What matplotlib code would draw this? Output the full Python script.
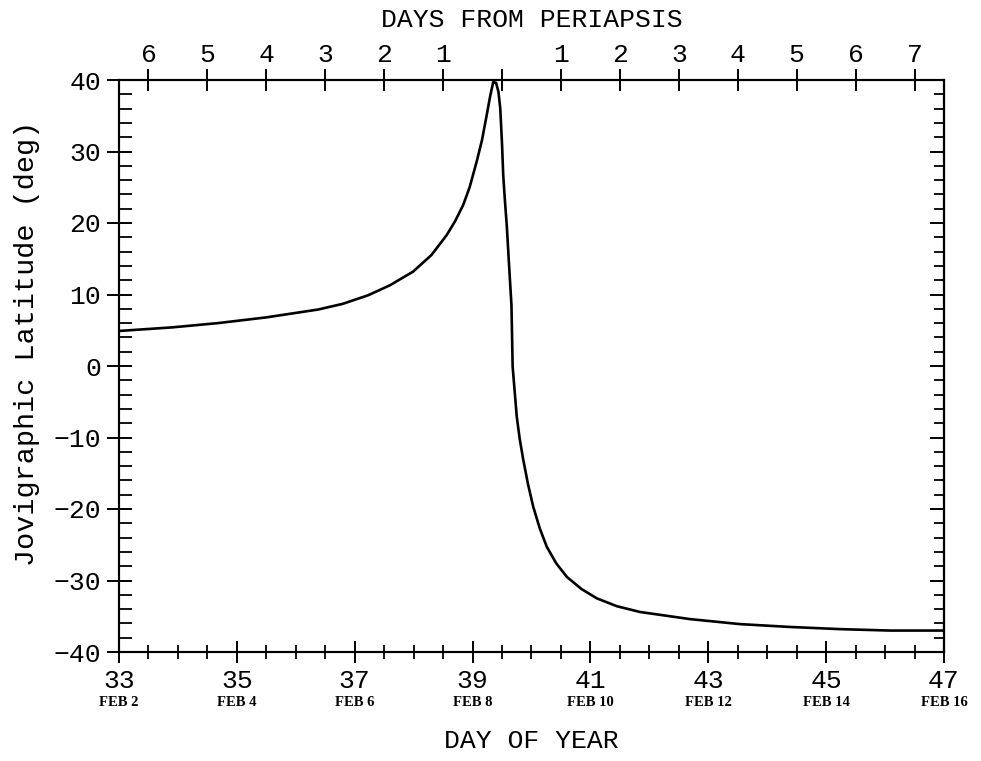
import numpy as np
import matplotlib.pyplot as plt
from matplotlib.ticker import MultipleLocator

# latitude track across the flyby, day of year 1992
day = [33.0, 33.9, 34.68, 35.5, 36.38, 36.8, 37.23, 37.6, 37.99, 38.3, 38.56,
       38.7, 38.84, 38.95, 39.07, 39.16, 39.24, 39.30, 39.35, 39.40, 39.44,
       39.47, 39.50, 39.52, 39.55, 39.58, 39.62, 39.66, 39.68, 39.75, 39.80,
       39.86, 39.94, 40.03, 40.14, 40.26, 40.42, 40.60, 40.85, 41.11, 41.45,
       41.84, 42.69, 43.54, 44.39, 45.23, 46.08, 47.0]
lat = [4.9, 5.4, 6.0, 6.8, 7.9, 8.7, 9.9, 11.3, 13.2, 15.5, 18.3,
       20.2, 22.5, 25.0, 28.6, 31.6, 35.1, 37.8, 39.7, 39.6, 38.3,
       36.0, 31.0, 26.7, 23.0, 19.7, 14.0, 8.5, -0.1, -7.1, -10.2,
       -13.1, -16.5, -19.7, -22.7, -25.3, -27.6, -29.5, -31.2, -32.5, -33.6,
       -34.4, -35.4, -36.1, -36.5, -36.8, -37.0, -37.0]

periapsis_day = 39.5
peri_offsets = [-6, -5, -4, -3, -2, -1, 0, 1, 2, 3, 4, 5, 6, 7]
doy_ticks = [33, 35, 37, 39, 41, 43, 45, 47]
date_labels = ["FEB 2", "FEB 4", "FEB 6", "FEB 8", "FEB 10", "FEB 12", "FEB 14", "FEB 16"]
lat_ticks = [-40, -30, -20, -10, 0, 10, 20, 30, 40]

mono = "Liberation Mono"
lw_axis = 1.5

fig = plt.figure(figsize=(9.81, 7.61), dpi=100)
ax = fig.add_axes([119/981, 1 - 652/761, 825/981, 572/761])

ax.plot(day, lat, color="black", lw=1.9, solid_joinstyle="round")
ax.set_xlim(33, 47)
ax.set_ylim(-40, 40)

for s in ax.spines.values():
    s.set_linewidth(lw_axis)

# bottom axis: day of year
ax.set_xticks(doy_ticks)
ax.set_xticklabels([str(d) for d in doy_ticks], fontfamily=mono, fontsize=19)
ax.xaxis.set_minor_locator(MultipleLocator(0.5))
ax.tick_params(axis="x", which="major", direction="inout", length=16, width=1.4, pad=4)
ax.tick_params(axis="x", which="minor", direction="inout", length=10, width=1.3)
for d, lab in zip(doy_ticks, date_labels):
    ax.text(d, -0.089, lab, transform=ax.get_xaxis_transform(), ha="center",
            va="center", fontfamily="Liberation Serif", fontweight="bold", fontsize=10.5)
ax.set_xlabel("DAY OF YEAR", fontfamily=mono, fontsize=19, labelpad=26)

# left axis: latitude
ax.set_yticks(lat_ticks)
ax.set_yticklabels([str(v).replace("-", "\u2212") for v in lat_ticks],
                   fontfamily=mono, fontsize=19)
ax.yaxis.set_minor_locator(MultipleLocator(2))
ax.tick_params(axis="y", which="major", direction="inout", length=18, width=1.4, pad=4)
ax.tick_params(axis="y", which="minor", direction="in", length=9, width=1.3)
ax.set_ylabel("Jovigraphic Latitude (deg)", fontfamily=mono, fontsize=20.5)
ax.yaxis.set_label_coords(-0.096, 0.54)

# right axis: inward ticks only
rax = ax.secondary_yaxis("right")
rax.set_yticks(lat_ticks)
rax.yaxis.set_minor_locator(MultipleLocator(2))
rax.tick_params(which="major", direction="in", length=10, width=1.4, labelright=False)
rax.tick_params(which="minor", direction="in", length=7, width=1.3)
rax.spines["right"].set_linewidth(lw_axis)

# top axis: days from periapsis
tax = ax.twiny()
tax.set_xlim(ax.get_xlim())
tax.set_xticks([periapsis_day + k for k in peri_offsets])
tax.set_xticklabels(["" if k == 0 else str(abs(k)) for k in peri_offsets],
                    fontfamily=mono, fontsize=19)
tax.tick_params(axis="x", direction="inout", length=16, width=1.4, pad=1)
tax.set_xlabel("DAYS FROM PERIAPSIS", fontfamily=mono, fontsize=19, labelpad=12)
for s in tax.spines.values():
    s.set_linewidth(lw_axis)

fig.savefig("out.png", dpi=100)
